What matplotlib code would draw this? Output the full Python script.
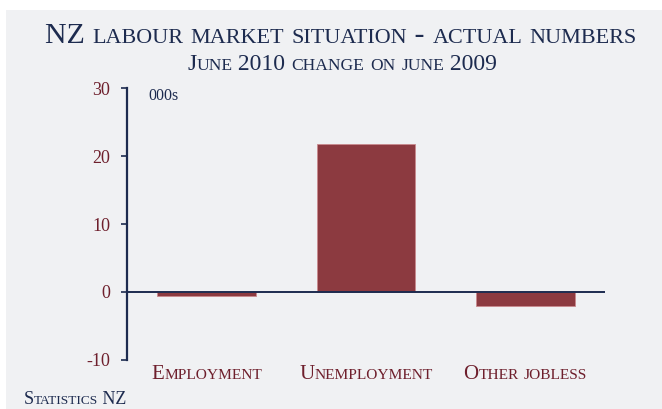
#!/usr/bin/env python3
"""
NZ labour market situation - change in actual numbers, June 2010 on June 2009
"""
import matplotlib
matplotlib.use("Agg")
import matplotlib.pyplot as plt
from matplotlib.offsetbox import TextArea, HPacker, AnnotationBbox
from matplotlib.patches import Rectangle

categories = ["Employment", "Unemployment", "Other jobless"]
changes = [-0.6, 21.8, -2.1]   # 000s
yticks = [-10, 0, 10, 20, 30]

NAVY = "#1d2b4f"
WINE = "#6e1f2c"
BAR = "#8c3a40"
BG = "#f0f1f3"
FONT = "Liberation Serif"


def small_caps(text, size, color, ratio=0.74):
    """Fake small caps: capitals at full size, lower case as smaller capitals"""
    runs = []
    for ch in text:
        big = not ch.islower()
        if runs and runs[-1][0] == big:
            runs[-1][1] += ch
        else:
            runs.append([big, ch])
    parts = []
    for big, s in runs:
        fs = size if big else size * ratio
        parts.append(TextArea(s.upper(), textprops=dict(
            fontsize=fs, color=color, family=FONT)))
    return HPacker(children=parts, align="baseline", pad=0, sep=0)


def place(ax, box, xy, coords, align):
    ab = AnnotationBbox(box, xy, xycoords=coords, box_alignment=align,
                        frameon=False, pad=0, annotation_clip=False)
    ax.add_artist(ab)


fig = plt.figure(figsize=(6.62, 4.09), dpi=100)
fig.patch.set_facecolor("white")
fig.add_artist(Rectangle((6/662, 0), 1, 1 - 10/409, transform=fig.transFigure,
                         facecolor=BG, edgecolor="none", zorder=-10))

ax = fig.add_axes([127/662, 49/409, 478/662, 272/409])
ax.set_facecolor("none")

x = list(range(len(categories)))
ax.bar(x, changes, width=0.62, color=BAR, edgecolor="#c98a8e", linewidth=0.6,
       zorder=2)
ax.axhline(0, color=NAVY, lw=1.4, zorder=3)

ax.set_xlim(-0.5, 2.5)
ax.set_ylim(-10, 30)
ax.set_yticks(yticks)
ax.set_yticklabels([str(v) for v in yticks], family=FONT, fontsize=13,
                   color=WINE)
ax.tick_params(axis="y", direction="out", length=4, width=1.2, color=NAVY,
               pad=8)
ax.set_xticks([])
for s in ["top", "right", "bottom"]:
    ax.spines[s].set_visible(False)
ax.spines["left"].set_color(NAVY)
ax.spines["left"].set_linewidth(1.6)

ax.text(0.045, 1.0, "000s", transform=ax.transAxes, family=FONT,
        fontsize=11.5, color=NAVY, va="top", ha="left")

for xi, name in zip(x, categories):
    place(ax, small_caps(name, 15, WINE), (xi, -0.055),
          ("data", "axes fraction"), (0.5, 0.5))

place(ax, small_caps("NZ labour market situation - actual numbers", 21.5, NAVY),
      (341/662, 1 - 36/409), "figure fraction", (0.5, 0.5))
place(ax, small_caps("June 2010 change on june 2009", 17, NAVY),
      (342/662, 1 - 64/409), "figure fraction", (0.5, 0.5))
place(ax, small_caps("Statistics NZ", 13, NAVY),
      (24/662, 1 - 400/409), "figure fraction", (0, 0.5))

fig.savefig("out.png", dpi=100, facecolor=fig.get_facecolor())
